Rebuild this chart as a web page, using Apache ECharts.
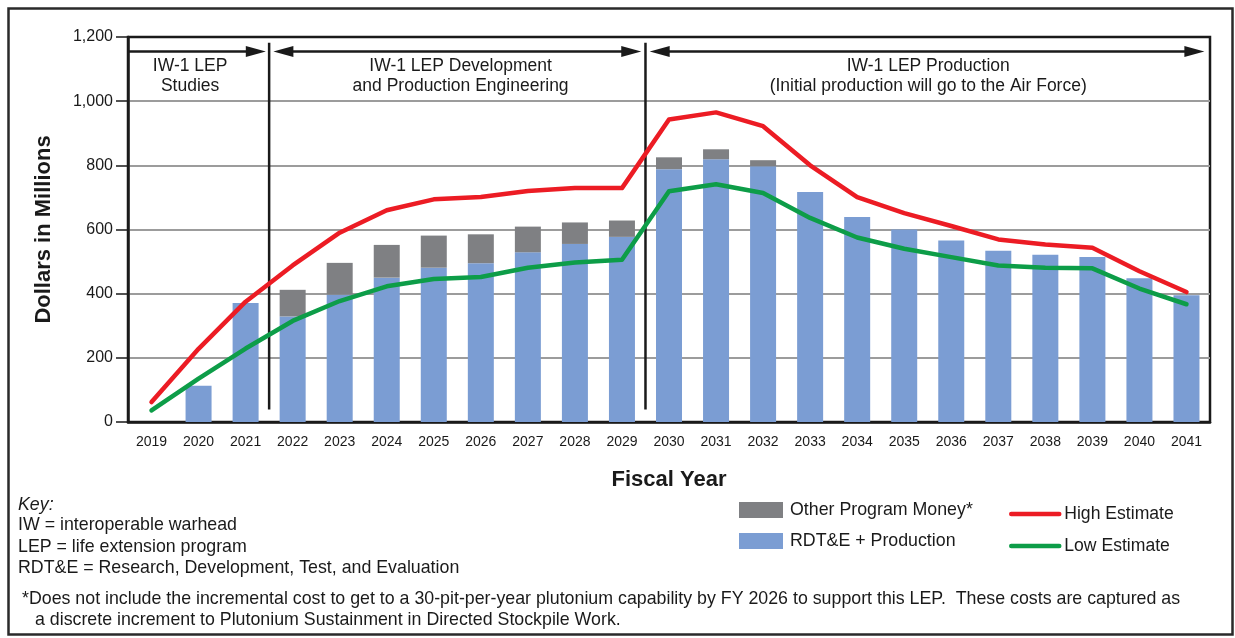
<!DOCTYPE html>
<html>
<head>
<meta charset="utf-8">
<title>IW-1 LEP cost estimate</title>
<script src="https://cdn.jsdelivr.net/npm/echarts@6/dist/echarts.min.js"></script>
<style>
  html, body { margin: 0; padding: 0; background: #fff; }
  #chart { width: 1235px; height: 638px; }
</style>
</head>
<body>
<div id="chart"></div>
<script>
// Fiscal years on the category axis
const years = ['2019', '2020', '2021', '2022', '2023', '2024', '2025', '2026', '2027', '2028', '2029',
  '2030', '2031', '2032', '2033', '2034', '2035', '2036', '2037', '2038', '2039', '2040', '2041'];

// Dollars in millions
const rdteProduction = [null, 113, 371, 329, 397, 450, 481, 495, 529, 555, 577,
  788, 819, 797, 717, 639, 600, 566, 534, 521, 514, 448, 395];
const otherProgramMoney = [null, null, null, 83, 99, 102, 100, 90, 80, 67, 51,
  37, 31, 19, null, null, null, null, null, null, null, null, null];
const highEstimate = [62, 228, 375, 488, 590, 660, 694, 701, 720, 729, 729,
  943, 965, 922, 800, 701, 651, 611, 569, 553, 543, 470, 405];
const lowEstimate = [36, 135, 229, 315, 377, 423, 446, 452, 481, 497, 506,
  719, 741, 714, 636, 575, 540, 514, 488, 481, 479, 416, 367];

// Program phases drawn across the top of the plot
const phaseNames = [
  'IW-1 LEP\nStudies',
  'IW-1 LEP Development\nand Production Engineering',
  'IW-1 LEP Production\n(Initial production will go to the Air Force)'
];

const keyLines = [
  'IW = interoperable warhead',
  'LEP = life extension program',
  'RDT&E = Research, Development, Test, and Evaluation'
];
const footnoteLines = [
  '*Does not include the incremental cost to get to a 30-pit-per-year plutonium capability by FY 2026 to support this LEP.  These costs are captured as',
  'a discrete increment to Plutonium Sustainment in Directed Stockpile Work.'
];

// Phase layout, in category-index units on a hidden value axis
const phaseLayout = [
  { from: -0.5, to: 2.43, textAt: 0.82, leftHead: false },
  { from: 2.59, to: 10.41, textAt: 6.57, leftHead: true },
  { from: 10.59, to: 22.38, textAt: 16.51, leftHead: true }
];
const phaseDividers = [2.5, 10.5];
const ARROW_Y = 1155;
const PHASE_TEXT_Y = 1078;
const DIVIDER_TOP = 1182;
const DIVIDER_BOTTOM = 39;

const FONT = '"Liberation Sans", Arial, Helvetica, sans-serif';
const INK = '#1a1a1a';
const BLUE = '#7b9dd3';
const GRAY = '#7f8083';
const RED = '#ec1c24';
const GREEN = '#0d9d48';

const chart = echarts.init(document.getElementById('chart'), null, { renderer: 'canvas' });

function renderPhase(params, api) {
  const cfg = phaseLayout[params.dataIndex];
  const a = api.coord([api.value(0), ARROW_Y]);
  const b = api.coord([api.value(1), ARROW_Y]);
  const t = api.coord([api.value(2), PHASE_TEXT_Y]);
  const headLen = 20, headHalf = 5.5;
  const children = [];
  const x0 = cfg.leftHead ? a[0] + headLen - 2 : a[0];
  const x1 = b[0] - headLen + 2;
  children.push({
    type: 'line',
    shape: { x1: x0, y1: a[1], x2: x1, y2: b[1] },
    style: { stroke: INK, lineWidth: 2.5 }
  });
  children.push({
    type: 'polygon',
    shape: { points: [[b[0], b[1]], [b[0] - headLen, b[1] - headHalf], [b[0] - headLen, b[1] + headHalf]] },
    style: { fill: INK }
  });
  if (cfg.leftHead) {
    children.push({
      type: 'polygon',
      shape: { points: [[a[0], a[1]], [a[0] + headLen, a[1] - headHalf], [a[0] + headLen, a[1] + headHalf]] },
      style: { fill: INK }
    });
  }
  children.push({
    type: 'text',
    style: {
      text: phaseNames[params.dataIndex],
      x: t[0], y: t[1],
      align: 'center', verticalAlign: 'middle',
      font: '17.5px ' + FONT,
      lineHeight: 20,
      fill: INK
    }
  });
  return { type: 'group', children };
}

function renderDivider(params, api) {
  const top = api.coord([api.value(0), DIVIDER_TOP]);
  const bottom = api.coord([api.value(0), DIVIDER_BOTTOM]);
  return {
    type: 'line',
    shape: { x1: top[0], y1: top[1], x2: bottom[0], y2: bottom[1] },
    style: { stroke: INK, lineWidth: 2.5 }
  };
}

const keyGraphics = [
  { type: 'text', left: 18, top: 496, style: { text: 'Key:', font: 'italic 17.8px ' + FONT, fill: INK } }
].concat(keyLines.map((line, i) => ({
  type: 'text', left: 18, top: 516.5 + i * 21.5,
  style: { text: line, font: '17.8px ' + FONT, fill: INK }
}))).concat(footnoteLines.map((line, i) => ({
  type: 'text', left: i === 0 ? 22 : 35, top: 590.5 + i * 20.5,
  style: { text: line, font: '17.8px ' + FONT, fill: INK }
})));

chart.setOption({
  backgroundColor: '#ffffff',
  animation: false,
  textStyle: { fontFamily: FONT, color: INK },
  grid: {
    left: 128, right: 25, top: 37, bottom: 216,
    show: true, borderColor: INK, borderWidth: 2.5, backgroundColor: 'transparent'
  },
  graphic: [
    {
      type: 'rect', left: 6, top: 6, silent: true,
      shape: { width: 1224, height: 626 },
      style: { fill: 'none', stroke: '#2a2a2a', lineWidth: 2.5 }
    }
  ].concat(keyGraphics),
  legend: [
    {
      data: ['Other Program Money*', 'RDT&E + Production'],
      orient: 'vertical', left: 739, top: 501, padding: 0,
      itemWidth: 44, itemHeight: 16, itemGap: 13,
      icon: 'rect',
      selectedMode: false,
      textStyle: { fontSize: 17.8, color: INK, fontFamily: FONT, padding: [0, 0, 0, 2] }
    },
    {
      data: ['High Estimate', 'Low Estimate'],
      orient: 'vertical', left: 1009, top: 505, padding: 0,
      itemWidth: 48, itemHeight: 16, itemGap: 14,
      selectedMode: false,
      itemStyle: { opacity: 0 },
      lineStyle: { width: 4.5, cap: 'round', opacity: 1 },
      textStyle: { fontSize: 17.6, color: INK, fontFamily: FONT }
    }
  ],
  xAxis: [
    {
      type: 'category',
      data: years,
      name: 'Fiscal Year',
      nameLocation: 'middle',
      nameGap: 47,
      nameTextStyle: { fontSize: 22, fontWeight: 'bold', color: INK, fontFamily: FONT },
      axisLine: { lineStyle: { color: INK, width: 2.5 } },
      axisTick: { alignWithLabel: true, length: 10, lineStyle: { color: INK, width: 1.5 } },
      axisLabel: { fontSize: 14, color: INK, margin: 13, fontFamily: FONT },
      splitLine: { show: false }
    },
    {
      type: 'value', min: -0.5, max: 22.5, show: false
    }
  ],
  yAxis: {
    type: 'value',
    min: 0, max: 1200, interval: 200,
    name: 'Dollars in Millions',
    nameLocation: 'middle',
    nameRotate: 90,
    nameGap: 73,
    nameTextStyle: { fontSize: 22, fontWeight: 'bold', color: INK, fontFamily: FONT },
    axisLine: { show: true, onZero: false, lineStyle: { color: INK, width: 2.5 } },
    axisTick: { show: true, length: 12, lineStyle: { color: INK, width: 1.5 } },
    axisLabel: {
      fontSize: 16, color: INK, margin: 15, fontFamily: FONT,
      formatter: v => v.toLocaleString('en-US')
    },
    splitLine: { show: true, showMinLine: false, showMaxLine: false, lineStyle: { color: '#9c9c9c', width: 2 } }
  },
  series: [
    {
      name: 'RDT&E + Production', type: 'bar', stack: 'total',
      data: rdteProduction, barWidth: 26,
      itemStyle: { color: BLUE }, z: 2
    },
    {
      name: 'Other Program Money*', type: 'bar', stack: 'total',
      data: otherProgramMoney, barWidth: 26,
      itemStyle: { color: GRAY }, z: 2
    },
    {
      type: 'custom', name: 'dividers', xAxisIndex: 1, yAxisIndex: 0,
      data: phaseDividers.map(x => [x]),
      encode: { x: 0 },
      renderItem: renderDivider, silent: true, clip: false, z: 3
    },
    {
      name: 'High Estimate', type: 'line', data: highEstimate,
      symbol: 'none', smooth: false,
      lineStyle: { color: RED, width: 4.5, cap: 'round', join: 'round' },
      itemStyle: { color: RED }, z: 4
    },
    {
      name: 'Low Estimate', type: 'line', data: lowEstimate,
      symbol: 'none', smooth: false,
      lineStyle: { color: GREEN, width: 4.5, cap: 'round', join: 'round' },
      itemStyle: { color: GREEN }, z: 4
    },
    {
      type: 'custom', name: 'phases', xAxisIndex: 1, yAxisIndex: 0,
      data: phaseLayout.map(p => [p.from, p.to, p.textAt]),
      encode: { x: [0, 1, 2] },
      renderItem: renderPhase, silent: true, clip: false, z: 5
    }
  ]
});
</script>
</body>
</html>
